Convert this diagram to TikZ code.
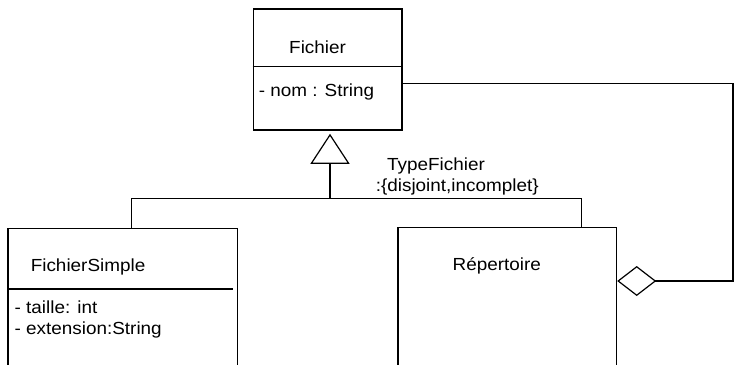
\documentclass[tikz,border=0pt]{standalone}
\usepackage{fontspec}
\setmainfont{Liberation Sans}[FakeStretch=1.08]
\usetikzlibrary{arrows.meta}
\tikzset{
  classbox/.style={draw, line width=1.2pt, anchor=north west, inner sep=0pt},
  txt/.style={anchor=base west, inner sep=0pt, font=\fontsize{17.5}{21.7}\selectfont},
  link/.style={line width=1.2pt}
}
\begin{document}
\begin{tikzpicture}[x=1pt,y=-1pt]
    \useasboundingbox (0,0) rectangle (735,364);
    \clip (0,0) rectangle (735,364);
    % classes
    \node [classbox, minimum width=148.6pt, minimum height=121pt] (fichier) at (252.7,8.3) {};
    \node [classbox, minimum width=229.7pt, minimum height=160pt] (fsimple) at (7.3,227.7) {};
    \node [classbox, minimum width=218.7pt, minimum height=160pt] (rep) at (397.3,226.7) {};
    \draw [link] (fichier.north west) ++(0,58) -- ++(148.6,0);
    \draw [link] (fsimple.north west) ++(0,61.3) -- ++(226,0);
    % texts
    \node [txt] (fichiername) at (289,53.3) {Fichier};
    \node [txt] (nom) at (258.7,96.5) {- nom : String};
    \node [txt] (fsimplename) at (30.6,271.7) {FichierSimple};
    \node [txt] (taille) at (14.5,313) {- taille: int};
    \node [txt] (extension) at (14.5,334) {- extension:String};
    \node [txt] (repname) at (452.5,270) {Répertoire};
    \node [txt] (typename) at (387,170) {TypeFichier};
    \node [txt] (typeconstr) at (375.6,191.7) {:\{disjoint,incomplet\}};
    % generalisation
    \coordinate (gen) at (330,198.3);
    \coordinate (leftfoot) at (131.7,198.3);
    \coordinate (rightfoot) at (581.7,198.3);
    \draw [link] (leftfoot |- fsimple.north) -- (leftfoot) -- (rightfoot) -- (rightfoot |- rep.north);
    \draw [link, shorten >=3.3pt, -{Triangle[open, length=30pt, width=39pt]}] (gen) -- (gen |- fichier.south);
    % aggregation
    \coordinate (aggr) at (rep.east |- 0,281);
    \coordinate (corner) at (733,83.3);
    \draw [link, {Diamond[open, length=39pt, width=30pt]}-] (aggr) -| (corner) -- (corner -| fichier.east);
\end{tikzpicture}
\end{document}
